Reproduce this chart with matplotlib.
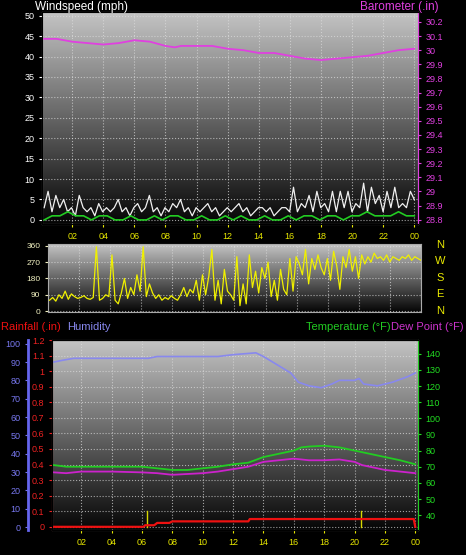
import numpy as np
import matplotlib
matplotlib.use("Agg")
import matplotlib.pyplot as plt
from matplotlib.colors import LinearSegmentedColormap

plt.rcParams['font.family'] = ['Liberation Sans', 'DejaVu Sans']

# ---------------- data ----------------
baro_hours = [0.2, 1, 2, 3, 4, 5, 6, 7, 8, 8.6, 9, 10, 11, 12, 13, 14, 15, 16, 17, 18, 19, 20, 21, 22, 23, 24]
baro_vals = [30.08, 30.08, 30.06, 30.05, 30.04, 30.05, 30.07, 30.06, 30.03, 30.02, 30.03, 30.03, 30.03, 30.01, 30.00, 29.98, 29.98, 29.96, 29.94, 29.93, 29.94, 29.95, 29.96, 29.98, 30.00, 30.01]

gust_vals = [3, 7, 2, 6, 3, 5, 2, 3, 1, 6, 3, 2, 3, 1, 4, 2, 3, 2, 3, 5, 2, 3, 1, 3, 4, 2, 3, 6, 2, 3, 1, 3,
             2, 4, 3, 5, 2, 3, 1, 3, 2, 3, 4, 2, 3, 1, 2, 3, 2, 3, 4, 2, 3, 1, 2, 3, 3, 2, 3, 1, 2, 3, 3, 2,
             8, 2, 4, 3, 6, 2, 7, 3, 4, 2, 7, 2, 7, 3, 7, 2, 4, 3, 9, 2, 8, 4, 6, 2, 7, 3, 8, 3, 4, 3, 7, 5]
avg_vals = [0, 1, 1, 2, 1, 1, 0, 1, 1, 0, 0, 1, 0, 0, 1, 0, 1, 1, 0, 0, 1, 0, 0, 1,
            0, 1, 0, 0, 1, 0, 0, 1, 0, 1, 1, 0, 1, 1, 0, 1, 1, 2, 1, 1, 1, 2, 1, 1]

wdir_vals = [60, 75, 55, 90, 70, 110, 65, 95, 80, 70, 75, 85, 70, 65, 75, 355, 60, 70, 90, 80,
             310, 60, 40, 100, 180, 70, 130, 90, 200, 110, 355, 80, 150, 100, 70, 90, 60, 75, 65, 85,
             70, 60, 90, 130, 80, 120, 100, 170, 60, 200, 90, 190, 340, 60, 170, 40, 230, 110, 90, 60,
             300, 30, 150, 40, 310, 130, 220, 100, 240, 180, 270, 80, 170, 60, 230, 120, 90, 290, 110, 300,
             260, 200, 340, 150, 290, 230, 310, 240, 200, 290, 170, 330, 250, 120, 300, 240, 340, 220, 300, 180,
             310, 260, 300, 270, 320, 290, 300, 280, 310, 270, 300, 290, 280, 300, 290, 310, 280, 300, 290, 280]

hum_hours = [0.2, 0.8, 1.5, 6.4, 7.0, 8.0, 10.0, 11.0, 12.0, 13.5, 14.0, 15.0, 15.8, 16.3, 17.0, 17.8, 18.5, 19.0, 20.0, 20.3, 20.6, 21.5, 22.5, 23.5, 24.0]
hum_vals = [90, 91, 92, 92, 93, 93, 93, 93, 94, 95, 93, 88, 84, 79, 77, 76, 78, 80, 80, 81, 78, 77, 79, 82, 84]

temp_hours = [0.2, 1, 2, 4, 6, 7, 8, 9, 10, 11, 12, 13, 14, 15, 16, 16.5, 17, 18, 19, 20, 21, 22, 23, 24]
temp_vals = [71, 70, 70, 70, 70, 69, 68, 68, 69, 70, 71.5, 72.5, 76, 78, 80, 82, 82.5, 83, 82, 80, 78, 76, 74, 71.5]
dew_hours = [0.2, 1, 2, 4, 6, 7, 8, 9, 10, 11, 12, 13, 14, 15, 16, 17, 18, 19, 20, 20.5, 21, 22, 23, 24]
dew_vals = [66.5, 66, 67, 67, 66.5, 66, 65, 65.5, 66, 67, 68.5, 70, 73, 74, 75, 74, 74, 74.5, 73, 71, 70, 68, 67, 66]

rain_hours = [0.2, 6.1, 6.2, 6.8, 7.0, 7.8, 8.0, 13.0, 13.1, 23.9, 24.0]
rain_vals = [0.0, 0.0, 0.01, 0.01, 0.025, 0.025, 0.035, 0.035, 0.05, 0.05, 0.0]
marker_hours = [6.3, 20.4]

hour_ticks = [2, 4, 6, 8, 10, 12, 14, 16, 18, 20, 22, 24]
hour_labels = ['02', '04', '06', '08', '10', '12', '14', '16', '18', '20', '22', '00']

# ---------------- figure ----------------
W, H = 466, 555
fig = plt.figure(figsize=(W / 100, H / 100), dpi=100, facecolor='black')


def add_ax(l, r, t, b):
    return fig.add_axes([l / W, 1 - b / H, (r - l) / W, (b - t) / H])


grad = np.linspace(0, 1, 256).reshape(-1, 1)
cmap = LinearSegmentedColormap.from_list('g', ['#050505', '#c4c4c4'])


def style(ax):
    ax.set_facecolor('black')
    ax.imshow(grad, aspect='auto', cmap=cmap, origin='lower',
              extent=[0, 1, 0, 1], transform=ax.transAxes, zorder=0)
    ax.grid(True, color='#dddddd', linestyle=':', linewidth=0.8, alpha=0.7)
    for s in ax.spines.values():
        s.set_color('#aaaaaa')
    ax.tick_params(labelsize=6.5, length=2, colors='white')


# ---- panel 1 ----
ax1 = add_ax(42, 418, 12, 224)
style(ax1)
x_g = np.linspace(0.2, 24, len(gust_vals))
x_a = np.linspace(0.2, 24, len(avg_vals))
ax1.plot(x_g, gust_vals, color='#f0f0f0', lw=0.9, zorder=3)
ax1.plot(x_a, avg_vals, color='#22cc22', lw=1.2, zorder=4)
ax1.set_xlim(0.06, 24.24)
ax1.set_ylim(-1, 50.9)
ax1.set_yticks(range(0, 51, 5))
ax1.set_xticks(hour_ticks)
ax1.set_xticklabels(hour_labels)
ax1.tick_params(axis='x', colors='#e8e800')
ax1.tick_params(axis='y', colors='white')
ax1b = ax1.twinx()
ax1b.plot(baro_hours, baro_vals, color='#e040e0', lw=1.3, zorder=5)
ax1b.set_ylim(28.77, 30.27)
bt = np.round(np.arange(28.8, 30.21, 0.1), 1)
ax1b.set_yticks(bt)
ax1b.set_yticklabels([f'{v:g}' for v in bt])
ax1b.tick_params(axis='y', colors='#e040e0', labelsize=6.5, length=2)
ax1b.spines['right'].set_color('#e040e0')
fig.text(35 / W, 1 - 7 / H, 'Windspeed (mph)', color='white', fontsize=8.5, va='center')
fig.text(439 / W, 1 - 7 / H, 'Barometer (.in)', color='#e040e0', fontsize=8.5, va='center', ha='right')

# ---- panel 2 ----
ax2 = add_ax(48, 421, 244, 312)
style(ax2)
x_w = np.linspace(0.1, 24, len(wdir_vals))
ax2.plot(x_w, wdir_vals, color='#f0f000', lw=0.9, zorder=3)
ax2.set_xlim(0, 24)
ax2.set_ylim(-5, 370)
ax2.set_yticks([0, 90, 180, 270, 360])
ax2.set_xticks(hour_ticks)
ax2.set_xticklabels([])
ax2.tick_params(axis='x', length=0)
ax2.tick_params(axis='y', colors='#f0f0c0', labelsize=6)
for lab, yy in zip(['N', 'W', 'S', 'E', 'N'], [245, 261, 278, 294, 311]):
    fig.text(440 / W, 1 - yy / H, lab, color='#e8e800', fontsize=8, ha='center', va='center')

# ---- panel 3 ----
ax3 = add_ax(52, 418, 340, 530)
style(ax3)
ax3.plot(rain_hours, rain_vals, color='#ee1111', lw=1.6, zorder=5)
for mh in marker_hours:
    ax3.plot([mh, mh], [0, 0.1], color='#d8d800', lw=1.0, zorder=4)
ax3.set_xlim(0.07, 24.18)
ax3.set_ylim(-0.0205, 1.2)
rt = np.round(np.arange(0, 1.21, 0.1), 1)
ax3.set_yticks(rt)
ax3.set_yticklabels([f'{v:g}' for v in rt])
ax3.tick_params(axis='y', colors='#ee2222')
ax3.spines['left'].set_color('#ee5555')
ax3.set_xticks(hour_ticks)
ax3.set_xticklabels(hour_labels)
ax3.tick_params(axis='x', colors='#e8e800')

axh = ax3.twinx()
axh.plot(hum_hours, hum_vals, color='#8888ee', lw=1.2, zorder=3)
axh.set_ylim(-1.6, 102)
axh.yaxis.set_ticks_position('left')
axh.yaxis.set_label_position('left')
axh.spines['left'].set_position(('outward', 17))
axh.spines['left'].set_visible(True)
axh.spines['left'].set_color('#6666ee')
axh.spines['left'].set_linewidth(2)
axh.spines['right'].set_visible(False)
axh.set_yticks(range(0, 101, 10))
axh.tick_params(axis='y', colors='#7777ee', labelsize=6.5, length=2)

axt = ax3.twinx()
axt.plot(temp_hours, temp_vals, color='#22cc22', lw=1.3, zorder=4)
axt.plot(dew_hours, dew_vals, color='#cc22cc', lw=1.3, zorder=4)
axt.set_ylim(30.8, 148.5)
axt.set_yticks(range(40, 141, 10))
axt.tick_params(axis='y', colors='#22dd22', labelsize=6.5, length=2)
axt.spines['right'].set_color('#22cc22')

fig.text(1 / W, 1 - 327 / H, 'Rainfall (.in)', color='#ee1111', fontsize=8, va='center')
fig.text(67 / W, 1 - 327 / H, 'Humidity', color='#8888ee', fontsize=8, va='center')
fig.text(391 / W, 1 - 327 / H, 'Temperature (°F)', color='#22cc22', fontsize=8, va='center', ha='right')
fig.text(464 / W, 1 - 327 / H, 'Dew Point (°F)', color='#cc33cc', fontsize=8, va='center', ha='right')

fig.savefig('out.png', dpi=100, facecolor='black')
